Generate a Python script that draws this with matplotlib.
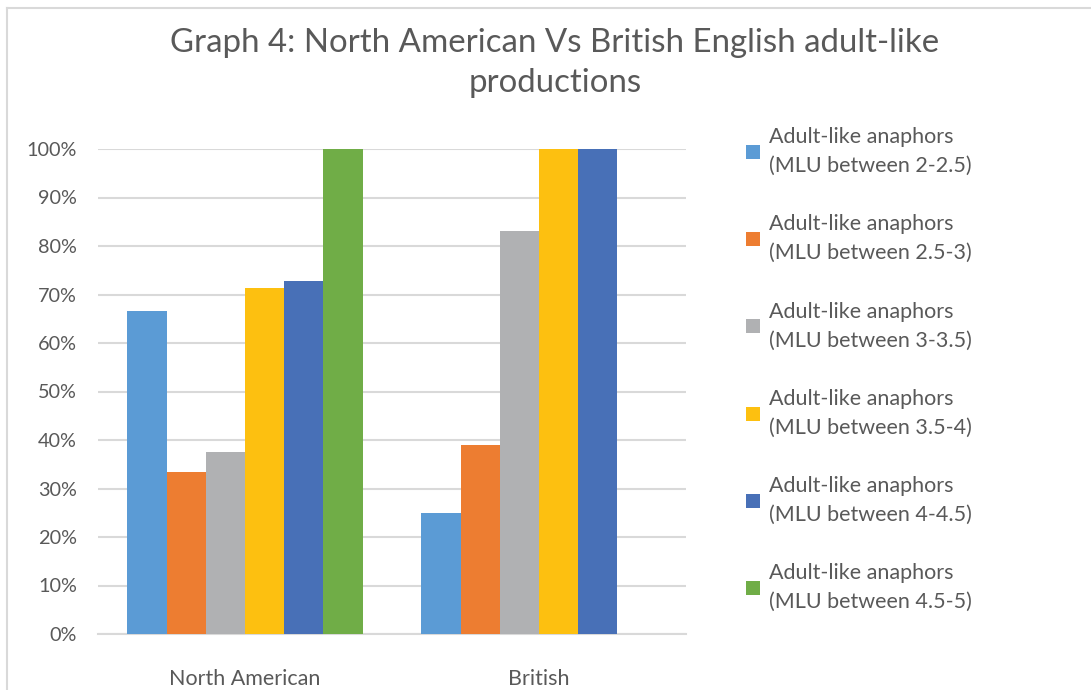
import matplotlib
matplotlib.use("Agg")
import matplotlib.pyplot as plt
from matplotlib.patches import Patch
from matplotlib.lines import Line2D
from matplotlib.ticker import PercentFormatter

# --- data ---
groups = ["North American", "British"]
series = ["Adult-like anaphors\n(MLU between 2-2.5)",
          "Adult-like anaphors\n(MLU between 2.5-3)",
          "Adult-like anaphors\n(MLU between 3-3.5)",
          "Adult-like anaphors\n(MLU between 3.5-4)",
          "Adult-like anaphors\n(MLU between 4-4.5)",
          "Adult-like anaphors\n(MLU between 4.5-5)"]
mlu_2_25 = [0.667, 0.25]
mlu_25_3 = [0.333, 0.389]
mlu_3_35 = [0.375, 0.83]
mlu_35_4 = [0.714, 1.0]
mlu_4_45 = [0.727, 1.0]
mlu_45_5 = [1.0, 0.0]
values = [mlu_2_25, mlu_25_3, mlu_3_35, mlu_35_4, mlu_4_45, mlu_45_5]
colors = ["#5B9BD5", "#ED7D31", "#B0B1B3", "#FDC010", "#4870B7", "#70AD47"]

TXT = "#595959"
GRID = "#D9D9D9"
plt.rcParams["font.family"] = ["Lato", "DejaVu Sans"]

W, H = 1091, 690
fig = plt.figure(figsize=(W / 100, H / 100), dpi=100)

# plot area in pixel coords -> figure fractions
left, right, top, bottom = 98, 686, 149, 634
ax = fig.add_axes([left / W, 1 - bottom / H, (right - left) / W, (bottom - top) / H])

n = len(values)
bw = 1 / (n + 1.5)
for i, (vals, c) in enumerate(zip(values, colors)):
    xs = [g - bw * n / 2 + bw * (i + 0.5) for g in range(len(groups))]
    ax.bar(xs, vals, width=bw, color=c, zorder=3, linewidth=0)

ax.set_xlim(-0.5, len(groups) - 0.5)
ax.set_ylim(0, 1)
ax.set_yticks([i / 10 for i in range(11)])
ax.yaxis.set_major_formatter(PercentFormatter(1.0, decimals=0))
ax.set_xticks(range(len(groups)))
ax.set_xticklabels(groups)
ax.tick_params(axis="both", length=0, colors=TXT)
ax.tick_params(axis="y", pad=15, labelsize=14.3)
ax.tick_params(axis="x", pad=25, labelsize=15.5)
ax.grid(axis="y", color=GRID, linewidth=1.5, zorder=0)
for sp in ["top", "right", "left"]:
    ax.spines[sp].set_visible(False)
ax.spines["bottom"].set_color(GRID)
ax.spines["bottom"].set_linewidth(1.5)

# legend
handles = [Patch(facecolor=c, edgecolor="none") for c in colors]
leg = fig.legend(handles, series, loc="upper left",
                 bbox_to_anchor=(727 / W, 1 - 108 / H), frameon=False,
                 fontsize=15.5, handlelength=0.62, handleheight=0.62,
                 handletextpad=0.45, labelspacing=1.78, labelcolor=TXT)
for t in leg.get_texts():
    t.set_linespacing(1.55)

# title
fig.text(555 / W, 1 - 63 / H,
         "Graph 4: North American Vs British English adult-like\nproductions",
         ha="center", va="center", fontsize=23.8, color=TXT, linespacing=1.45)

# chart border (top and left edges visible)
fig.add_artist(Line2D([7 / W, 1], [1 - 8 / H, 1 - 8 / H], color=GRID, linewidth=1.5))
fig.add_artist(Line2D([7 / W, 7 / W], [0, 1 - 8 / H], color=GRID, linewidth=1.5))

fig.savefig("out.png", dpi=100)
